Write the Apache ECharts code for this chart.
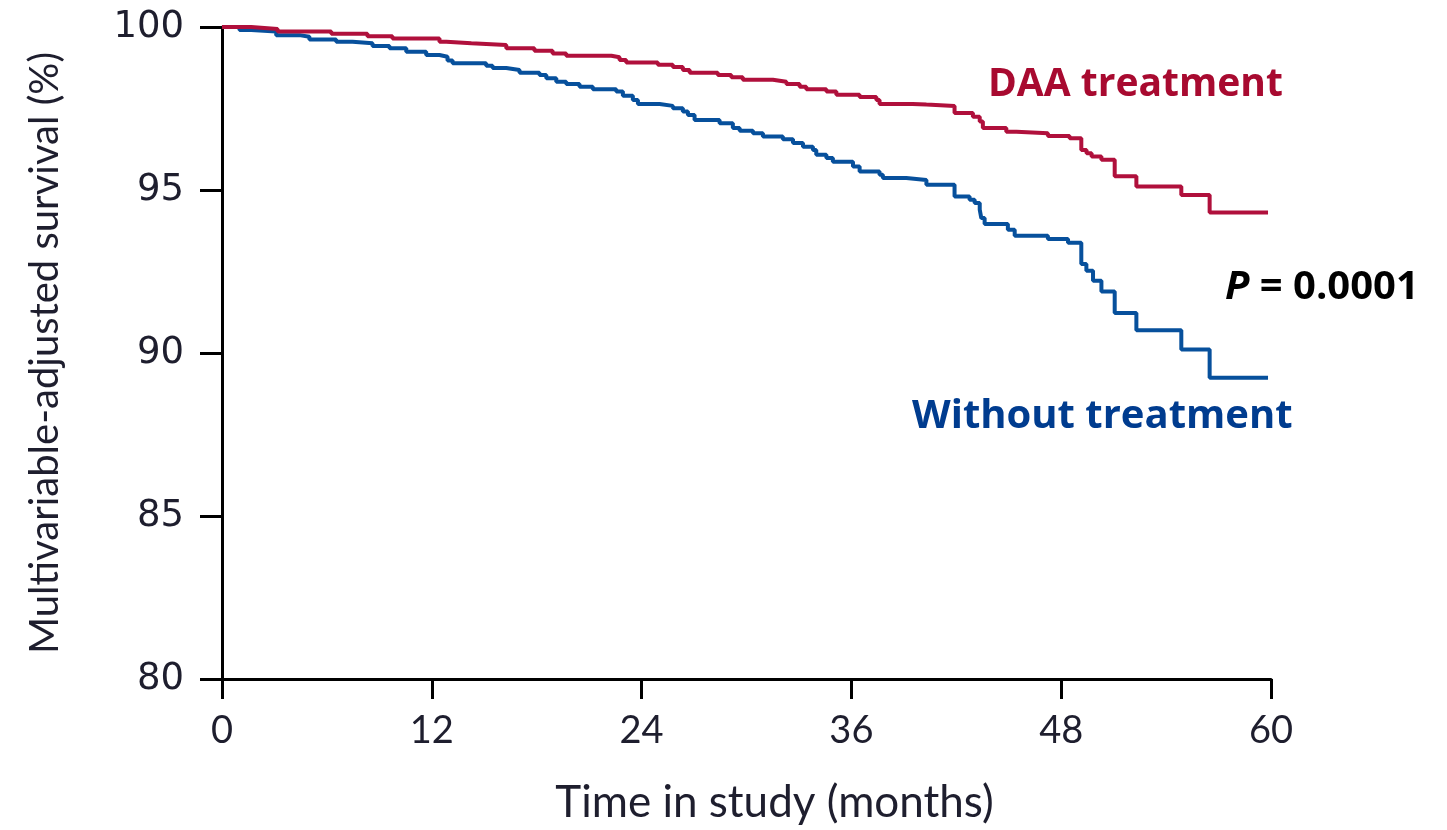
<!DOCTYPE html>
<html>
<head>
<meta charset="utf-8">
<title>Multivariable-adjusted survival</title>
<script src="https://cdn.jsdelivr.net/npm/echarts@6/dist/echarts.min.js"></script>
<style>
  html, body { margin: 0; padding: 0; background: #fff; }
  #chart { width: 1447px; height: 830px; }
</style>
</head>
<body>
<div id="chart"></div>
<script>
// Kaplan-Meier style step curves: [month of drop, survival (%) after the drop]
const daaMonths = [0, 1.67, 3.18, 6.25, 8.32, 9.75, 12.44, 12.83, 14.26, 16.26, 17.87, 18.91, 19.69,
  22.27, 22.74, 23.12, 24.93, 25.79, 26.36, 26.75, 28.36, 29.13, 29.79, 31.51, 32.28, 33.04, 33.42,
  34.57, 35.14, 36.47, 37.43, 37.61, 39.5, 40.29, 41.9, 42.95, 43.34, 43.52, 44.86, 45.44, 47.24,
  48.48, 49.15, 49.45, 49.74, 50.30, 51.06, 52.30, 54.87, 56.49, 59.83];
const daaSurvival = [100, 99.94, 99.86, 99.79, 99.72, 99.65, 99.55, 99.50, 99.45, 99.35, 99.27, 99.19, 99.12,
  99.07, 98.99, 98.91, 98.84, 98.77, 98.68, 98.60, 98.53, 98.46, 98.38, 98.32, 98.25, 98.17, 98.09,
  98.02, 97.92, 97.85, 97.76, 97.64, 97.62, 97.58, 97.36, 97.25, 97.10, 96.90, 96.79, 96.74, 96.66,
  96.59, 96.23, 96.13, 96.03, 95.93, 95.42, 95.11, 94.85, 94.31, 94.31];

const noTxMonths = [0, 1.0, 1.67, 3.10, 4.43, 5.0, 6.53, 7.47, 8.61, 9.58, 10.54, 11.68, 12.44, 12.90,
  13.19, 15.11, 15.48, 16.26, 17.02, 18.16, 18.55, 19.12, 19.69, 20.45, 21.21, 22.55, 22.93, 23.50,
  23.79, 25.03, 25.79, 26.36, 26.65, 27.03, 28.46, 29.22, 29.61, 30.37, 30.94, 32.08, 32.66, 33.23,
  33.80, 33.99, 34.57, 34.94, 36.09, 36.47, 37.61, 37.80, 39.14, 40.29, 41.90, 42.76, 43.05, 43.34,
  43.43, 43.62, 44.95, 45.34, 47.24, 48.39, 49.15, 49.44, 49.82, 50.30, 51.06, 52.30, 54.87, 56.49, 59.83];
const noTxSurvival = [100, 99.91, 99.86, 99.75, 99.70, 99.62, 99.55, 99.50, 99.42, 99.35, 99.24, 99.14, 99.09, 98.97,
  98.89, 98.81, 98.74, 98.68, 98.60, 98.53, 98.43, 98.32, 98.25, 98.17, 98.09, 98.02, 97.89, 97.76,
  97.64, 97.58, 97.51, 97.41, 97.30, 97.15, 97.05, 96.90, 96.82, 96.74, 96.64, 96.56, 96.44, 96.33,
  96.23, 96.08, 95.98, 95.87, 95.72, 95.57, 95.47, 95.37, 95.31, 95.16, 94.80, 94.70, 94.60, 94.40,
  94.14, 93.96, 93.78, 93.60, 93.50, 93.38, 92.73, 92.52, 92.22, 91.89, 91.23, 90.70, 90.11, 89.24, 89.24];

const xTicks = [0, 12, 24, 36, 48, 60];
const yTicks = [80, 85, 90, 95, 100];

const RED = '#b0103c';
const BLUE = '#07509c';
const RED_TEXT = '#a80a30';
const BLUE_TEXT = '#003c8f';
const INK = '#1e1e2e';

const pairs = (xs, ys) => xs.map((x, i) => [x, ys[i]]);

const chart = echarts.init(document.getElementById('chart'), null, { renderer: 'canvas' });

chart.setOption({
  animation: false,
  backgroundColor: '#ffffff',
  grid: { left: 222, right: 176, top: 27, bottom: 150, containLabel: false },
  xAxis: {
    type: 'value',
    min: 0, max: 60, interval: 12,
    name: 'Time in study (months)',
    nameLocation: 'middle',
    nameGap: 102,
    nameTextStyle: { fontFamily: 'Lato', fontSize: 44, color: INK, padding: [0, 0, 0, 56] },
    axisLine: { show: true, onZero: false, lineStyle: { color: '#000', width: 3 } },
    axisTick: { show: true, inside: false, length: 20, lineStyle: { color: '#000', width: 3 } },
    axisLabel: {
      margin: 33, fontFamily: 'Lato', fontSize: 38, color: INK,
      formatter: v => (xTicks.includes(v) ? String(v) : '')
    },
    splitLine: { show: false }
  },
  yAxis: {
    type: 'value',
    min: 80, max: 100, interval: 5,
    name: 'Multivariable-adjusted survival (%)',
    nameLocation: 'middle',
    nameGap: 157,
    nameRotate: 90,
    nameTextStyle: { fontFamily: 'Lato', fontSize: 40, color: INK },
    axisLine: { show: true, onZero: false, lineStyle: { color: '#000', width: 3 } },
    axisTick: { show: true, inside: false, length: 22, lineStyle: { color: '#000', width: 3 } },
    axisLabel: {
      margin: 38, fontFamily: 'DejaVu Sans', fontSize: 37, color: INK,
      formatter: v => (yTicks.includes(v) ? String(v) : '')
    },
    splitLine: { show: false }
  },
  series: [
    {
      name: 'Without treatment',
      type: 'line',
      step: 'end',
      showSymbol: false,
      data: pairs(noTxMonths, noTxSurvival),
      lineStyle: { color: BLUE, width: 4 },
      z: 2
    },
    {
      name: 'DAA treatment',
      type: 'line',
      step: 'end',
      showSymbol: false,
      data: pairs(daaMonths, daaSurvival),
      lineStyle: { color: RED, width: 4 },
      z: 3
    }
  ],
  graphic: [
    {
      type: 'text', left: 988, top: 65,
      style: { text: 'DAA treatment', fontFamily: 'Open Sans', fontWeight: 'bold', fontSize: 39, fill: RED_TEXT }
    },
    {
      type: 'text', left: 1225, top: 268,
      style: {
        text: '{i|P}{b| = 0.0001}',
        rich: {
          i: { fontFamily: 'Open Sans', fontWeight: 'bold', fontStyle: 'italic', fontSize: 40, fill: '#000' },
          b: { fontFamily: 'Open Sans', fontWeight: 'bold', fontSize: 40, fill: '#000' }
        }
      }
    },
    {
      type: 'text', left: 912, top: 397,
      style: { text: 'Without treatment', fontFamily: 'Open Sans', fontWeight: 'bold', fontSize: 40, fill: BLUE_TEXT }
    }
  ]
});
</script>
</body>
</html>
